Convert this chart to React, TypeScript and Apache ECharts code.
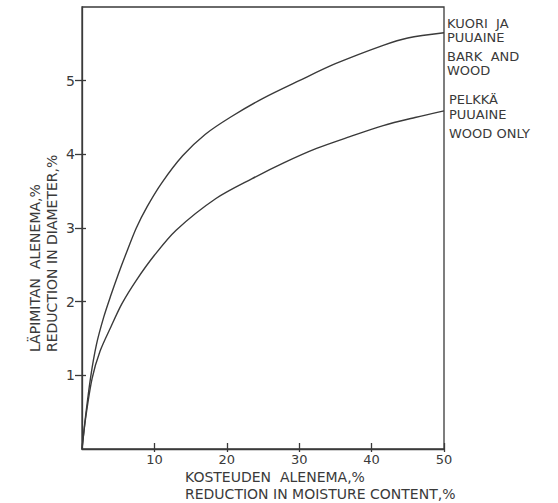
import React, { useEffect, useRef } from "react";
import * as echarts from "echarts";

// Moisture content reduction (%) vs. diameter reduction (%)
const barkAndWoodX = [0, 0.5, 1.2, 2, 3, 4, 5, 6, 7.5, 9, 11, 13.9, 17, 20.6, 25, 30, 35, 41.6, 45, 50];
const barkAndWoodY = [0, 0.45, 0.98, 1.42, 1.79, 2.09, 2.37, 2.63, 3.0, 3.29, 3.61, 3.98, 4.27, 4.51, 4.76, 5.0, 5.23, 5.48, 5.58, 5.65];
const woodOnlyX = [0, 0.5, 1.4, 2.5, 4, 5.5, 7.5, 10, 13, 18.5, 23.5, 28, 32.4, 37, 41.6, 46, 50];
const woodOnlyY = [0, 0.42, 0.96, 1.33, 1.66, 1.97, 2.29, 2.63, 2.97, 3.4, 3.67, 3.89, 4.08, 4.24, 4.39, 4.5, 4.59];

const xTicks = [10, 20, 30, 40, 50];
const yTicks = [1, 2, 3, 4, 5];

const yTitle = ["LÄPIMITAN  ALENEMA,%", "REDUCTION IN DIAMETER,%"];
const xTitle = ["KOSTEUDEN  ALENEMA,%", "REDUCTION IN MOISTURE CONTENT,%"];
const barkLabel = ["KUORI  JA", "PUUAINE", "BARK  AND", "WOOD"];
const woodLabel = ["PELKKÄ", "PUUAINE", "WOOD ONLY"];

const INK = "#3a3a3a";
const FONT = "DejaVu Sans";

function pairs(xs: number[], ys: number[]) {
  return xs.map((x, i) => [x, ys[i]]);
}

export default function App() {
  const ref = useRef<HTMLDivElement>(null);

  useEffect(() => {
    if (!ref.current) return;
    const chart = echarts.init(ref.current, undefined, { renderer: "svg" });

    const axisBase = (min: number, max: number, interval: number) => ({
      type: "value" as const,
      min,
      max,
      interval,
      splitLine: { show: false },
    });

    const labelText = (x: number, ys: number[], lines: string[]) =>
      lines.map((t, i) => ({
        type: "text",
        x,
        y: ys[i],
        style: { text: t, fill: INK, font: `13px ${FONT}`, textAlign: "left", textVerticalAlign: "middle" },
      }));

    const tickStyle = { color: INK, width: 1.3 };

    chart.setOption({
      animation: false,
      backgroundColor: "#ffffff",
      grid: {
        left: 82,
        right: 114,
        top: 7,
        bottom: 54,
        show: true,
        borderColor: INK,
        borderWidth: 1.3,
      },
      xAxis: [
        {
          ...axisBase(0, 50, 10),
          position: "bottom",
          axisLine: { show: true, lineStyle: tickStyle },
          axisTick: { show: true, inside: false, length: 3, customValues: xTicks, lineStyle: tickStyle },
          axisLabel: {
            color: INK,
            fontFamily: FONT,
            fontSize: 13,
            margin: 4,
            formatter: (v: number) => (xTicks.includes(v) ? String(v) : ""),
          },
        },
        {
          ...axisBase(0, 50, 10),
          position: "bottom",
          axisLine: { show: false },
          axisTick: { show: true, inside: true, length: 6, customValues: xTicks, lineStyle: tickStyle },
          axisLabel: { show: false },
        },
      ],
      yAxis: [
        {
          ...axisBase(0, 6, 1),
          position: "left",
          axisLine: { show: true, lineStyle: tickStyle },
          axisTick: { show: true, inside: false, length: 7, customValues: yTicks, lineStyle: tickStyle },
          axisLabel: {
            color: INK,
            fontFamily: FONT,
            fontSize: 14,
            margin: 7,
            formatter: (v: number) => (yTicks.includes(v) ? String(v) : ""),
          },
        },
        {
          ...axisBase(0, 6, 1),
          position: "left",
          axisLine: { show: false },
          axisTick: { show: true, inside: true, length: 4, customValues: yTicks, lineStyle: tickStyle },
          axisLabel: { show: false },
        },
      ],
      series: [
        {
          name: "BARK AND WOOD",
          type: "line",
          xAxisIndex: 0,
          yAxisIndex: 0,
          data: pairs(barkAndWoodX, barkAndWoodY),
          smooth: 0.3,
          showSymbol: false,
          lineStyle: { color: INK, width: 1.4 },
        },
        {
          name: "WOOD ONLY",
          type: "line",
          xAxisIndex: 0,
          yAxisIndex: 0,
          data: pairs(woodOnlyX, woodOnlyY),
          smooth: 0.3,
          showSymbol: false,
          lineStyle: { color: INK, width: 1.4 },
        },
      ],
      graphic: [
        // rotated y-axis title, two lines reading bottom to top
        {
          type: "text",
          x: 35,
          y: 352,
          rotation: Math.PI / 2,
          style: { text: yTitle[0], fill: INK, font: `14px ${FONT}`, textAlign: "left", textVerticalAlign: "middle" },
        },
        {
          type: "text",
          x: 52,
          y: 352,
          rotation: Math.PI / 2,
          style: { text: yTitle[1], fill: INK, font: `14px ${FONT}`, textAlign: "left", textVerticalAlign: "middle" },
        },
        {
          type: "text",
          x: 185,
          y: 477,
          style: { text: xTitle[0], fill: INK, font: `14px ${FONT}`, textAlign: "left", textVerticalAlign: "middle" },
        },
        {
          type: "text",
          x: 185,
          y: 494,
          style: { text: xTitle[1], fill: INK, font: `14px ${FONT}`, textAlign: "left", textVerticalAlign: "middle" },
        },
        ...labelText(447, [23, 37, 56, 70], barkLabel),
        ...labelText(449, [99, 114, 133], woodLabel),
      ],
    });

    return () => chart.dispose();
  }, []);

  return (
    <div
      ref={ref}
      style={{ position: "absolute", left: 0, top: 0, width: 558, height: 503, background: "#fff" }}
    />
  );
}
